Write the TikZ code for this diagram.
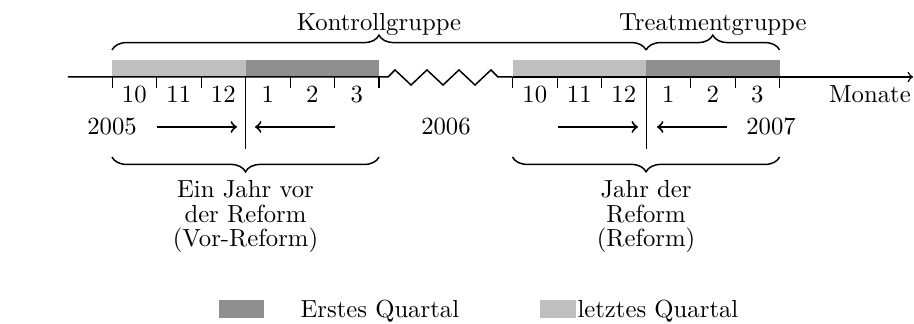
\documentclass[tikz,border=0pt]{standalone}
\usepackage{tikz}
\usetikzlibrary{arrows,positioning,calc,decorations.pathreplacing}

\begin{document}
\begin{tikzpicture}[
  firstq/.style={fill=black!44},
  lastq/.style={fill=black!25},
  gbrace/.style={semithick,decorate,decoration={brace,amplitude=6pt}},
  lbl/.style={inner sep=0pt,anchor=base},
  yeararrow/.style={thick,->},
  keybox/.style={rectangle,inner sep=0pt,minimum height=0.256cm}]
\useasboundingbox (-1.593,-3.513) rectangle (11.407,1.095);
% quarters
\fill[lastq] (0,0) rectangle (1.899,0.242);
\fill[firstq] (1.899,0) rectangle (3.798,0.242);
\fill[lastq] (5.697,0) rectangle (7.596,0.242);
\fill[firstq] (7.596,0) rectangle (9.495,0.242);
% axis with break
\coordinate (start) at (-0.626,0);
\coordinate (brk1) at (3.798,0);
\coordinate (brk2) at (5.697,0);
\coordinate (end) at (11.393,0);
\draw[semithick] (start) -- (brk1) -- (3.925,0) -- (4.025,0.1) -- (4.253,-0.114) -- (4.48,0.1)
  -- (4.708,-0.114) -- (4.935,0.1) -- (5.163,-0.114) -- (5.39,0.1) -- (5.49,0) -- (brk2);
\draw[semithick,->] (brk2) -- (end);
% ticks and months
\foreach \k [count=\i from 0] in {10,11,12,1,2,3} {
  \draw (\i*0.633,0) -- ++(0,-0.15);
  \path (\i*0.633+0.3165,-0.356) node(a\i)[lbl] {\k};
  \draw (5.697+\i*0.633,0) -- ++(0,-0.15);
  \path (5.697+\i*0.633+0.3165,-0.356) node(b\i)[lbl] {\k};
}
\draw[semithick] (brk1) -- ++(0,-0.15);
\draw (9.495,0) -- ++(0,-0.15);
\path (10.78,-0.356) node(mon)[lbl] {Monate};
% reform cuts
\coordinate (cut1) at (1.899,0);
\coordinate (cut1b) at (1.899,-1.024);
\coordinate (cut2) at (7.596,0);
\coordinate (cut2b) at (7.596,-1.024);
\draw (cut1) -- (cut1b);
\draw (cut2) -- (cut2b);
% years
\path (0,-0.825) node(y05)[lbl] {2005};
\path (4.75,-0.825) node(y06)[lbl] {2006};
\path (9.373,-0.825) node(y07)[lbl] {2007};
\coordinate (p1) at (0.64,-0.711);  \coordinate (q1) at (1.778,-0.711);
\coordinate (p2) at (3.172,-0.711); \coordinate (q2) at (2.034,-0.711);
\coordinate (p3) at (6.343,-0.711); \coordinate (q3) at (7.481,-0.711);
\coordinate (p4) at (8.747,-0.711); \coordinate (q4) at (7.751,-0.711);
\draw[yeararrow] (p1) -- (q1);
\draw[yeararrow] (p2) -- (q2);
\draw[yeararrow] (p3) -- (q3);
\draw[yeararrow] (p4) -- (q4);
% groups
\draw[gbrace] (0,0.384) -- (7.596,0.384);
\draw[gbrace] (7.596,0.384) -- (9.495,0.384);
\path (3.798,0.668) node(kg)[lbl] {Kontrollgruppe};
\path (8.546,0.668) node(tg)[lbl] {Treatmentgruppe};
% years of reform
\draw[gbrace] (3.798,-1.138) -- (0,-1.138);
\draw[gbrace] (9.495,-1.138) -- (5.697,-1.138);
\path (1.899,-1.365) node(vor)[below,align=center,inner sep=2.8pt] {Ein Jahr vor\\[-2pt] der Reform\\[-2pt] (Vor-Reform)};
\path (7.596,-1.365) node(ref)[below,align=center,inner sep=2.8pt] {Jahr der\\[-2pt] Reform\\[-2pt] (Reform)};
% legend
\path (1.842,-3.3) node(kd)[keybox,firstq,minimum width=0.64cm] {};
\path (2.674,-3.414) node(kdt)[lbl,anchor=base west] {Erstes Quartal};
\path (6.343,-3.3) node(kl)[keybox,lastq,minimum width=0.512cm] {};
\path (6.614,-3.414) node(klt)[lbl,anchor=base west] {letztes Quartal};
\end{tikzpicture}
\end{document}
